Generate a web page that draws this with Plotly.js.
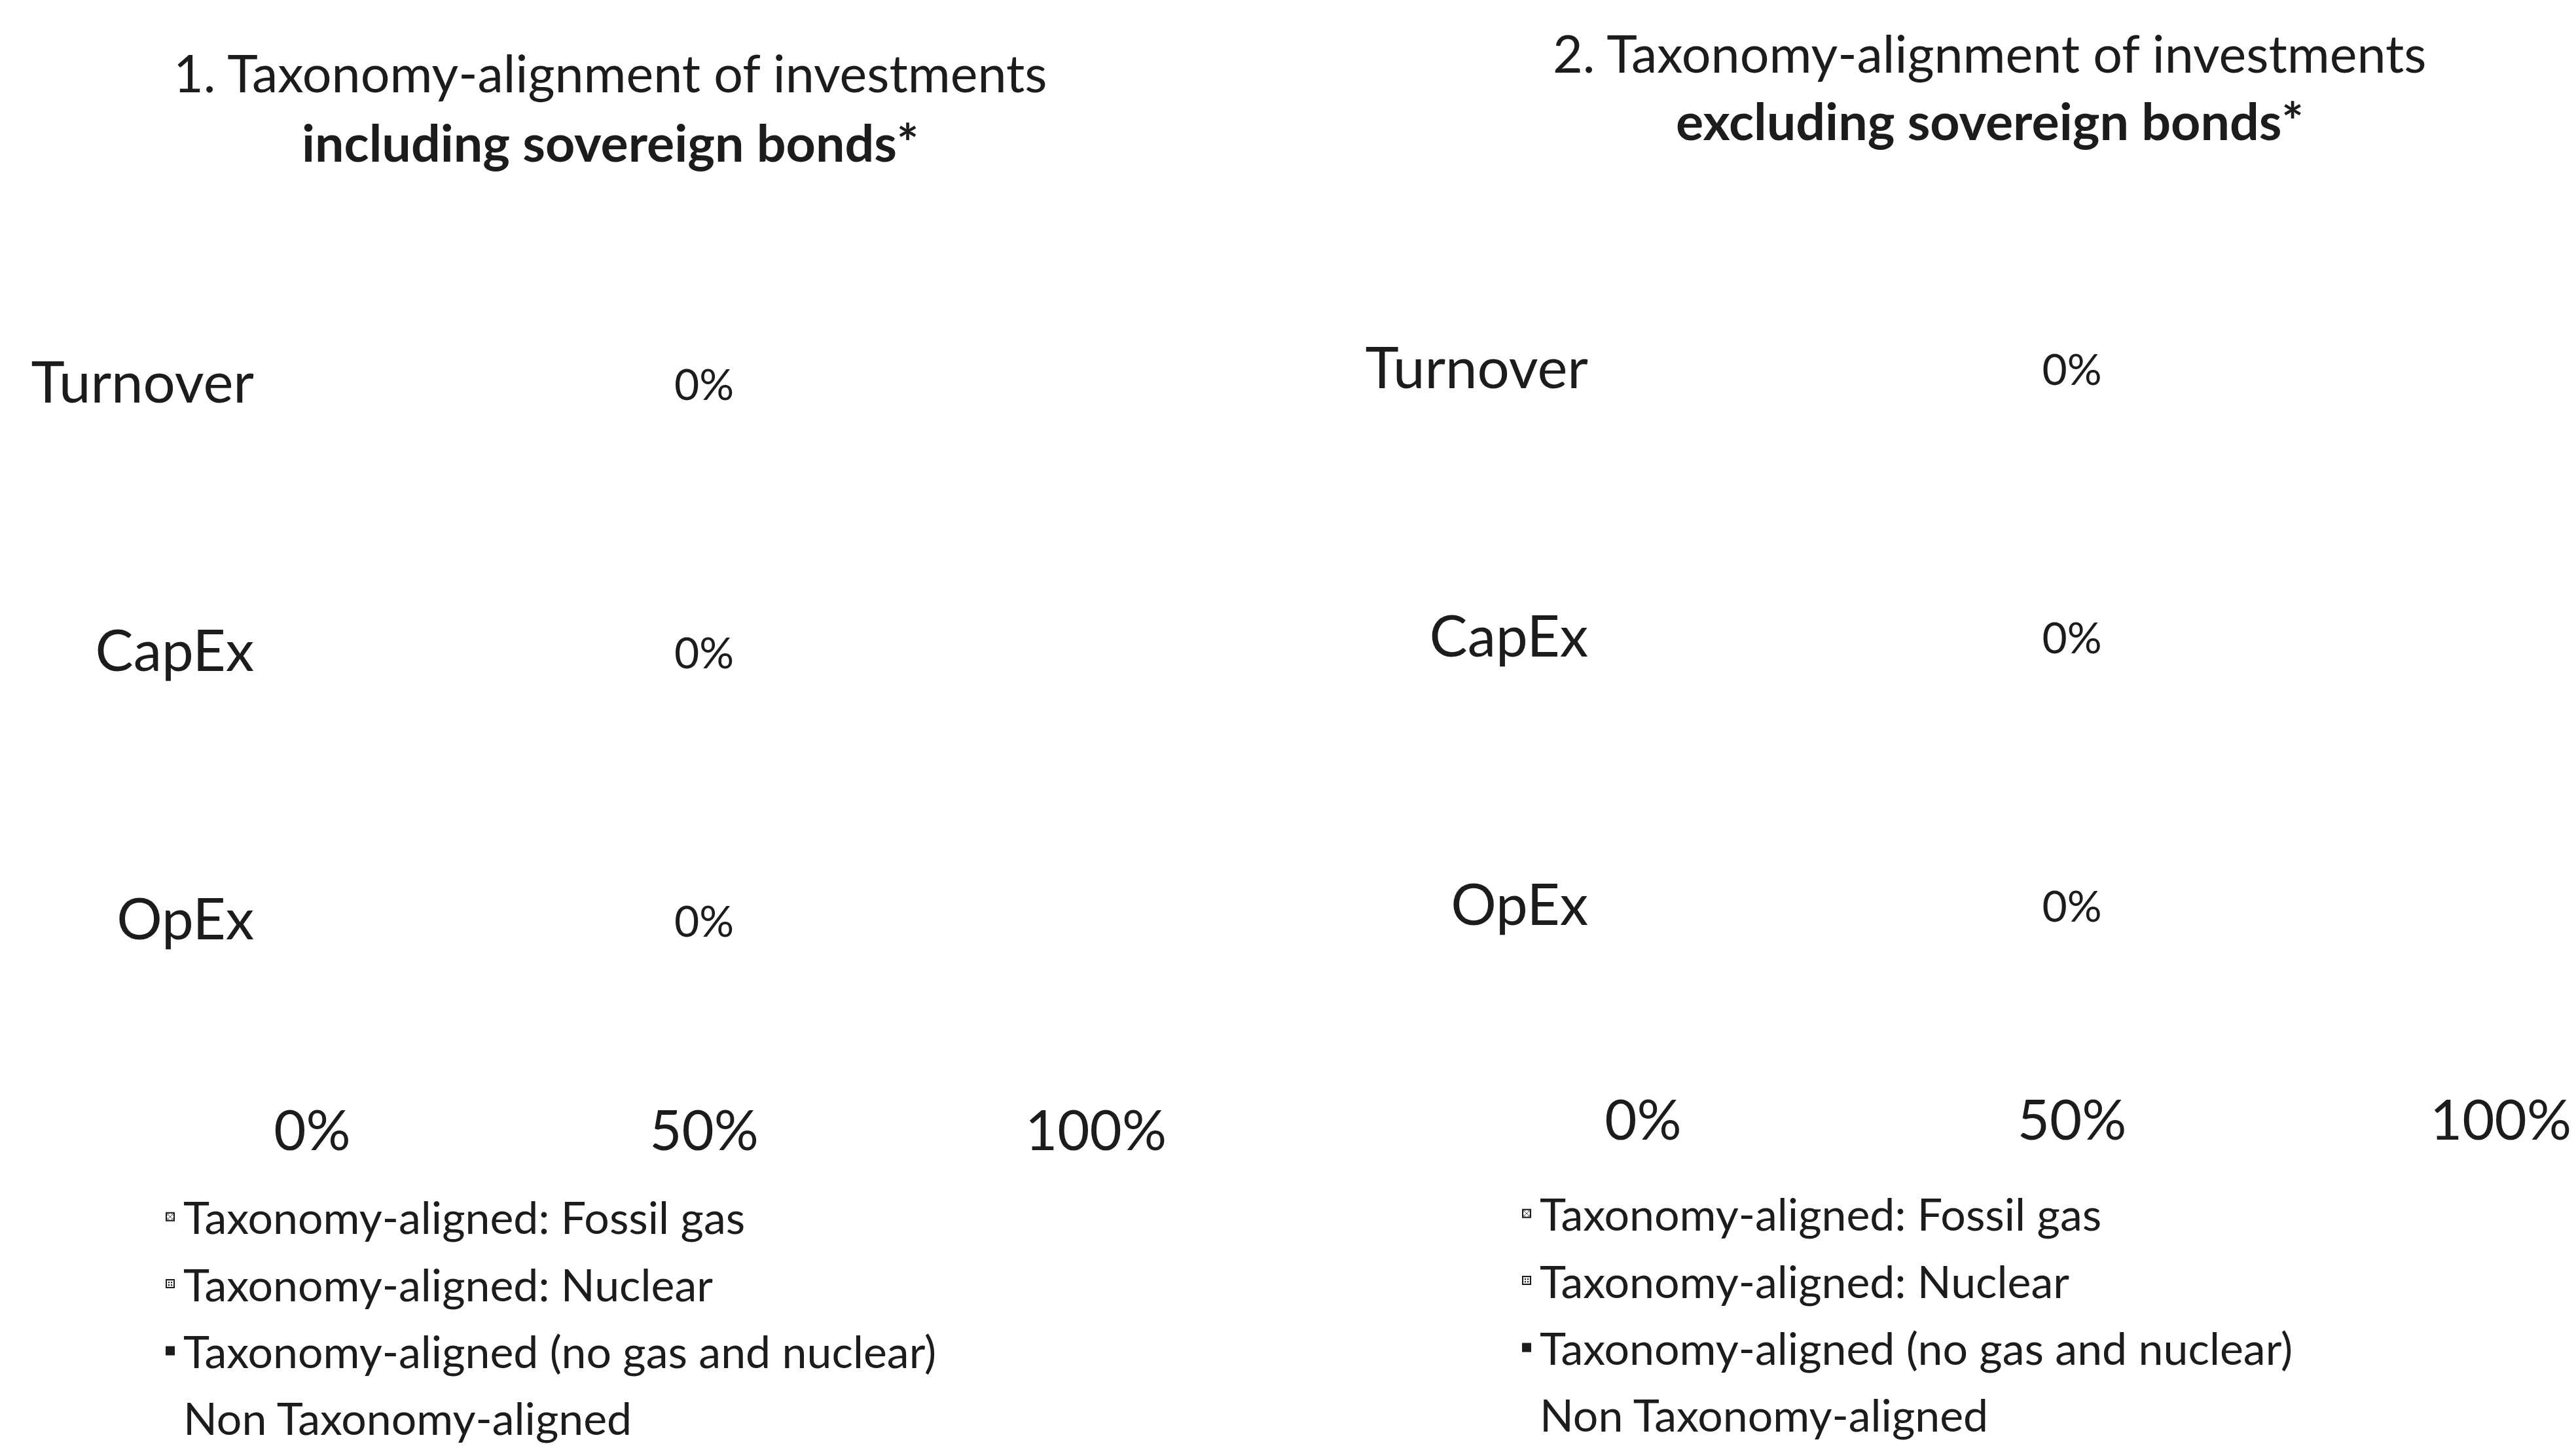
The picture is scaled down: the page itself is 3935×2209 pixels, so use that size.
<!DOCTYPE html>
<html>
<head>
<meta charset="utf-8">
<script src="https://cdn.plot.ly/plotly-3.0.1.min.js"></script>
<style>
  html, body { margin: 0; padding: 0; background: #ffffff; }
  #chart { width: 3935px; height: 2209px; }
</style>
</head>
<body>
<div id="chart"></div>
<script>
// ---------- DATA ----------
const categories = ['Turnover', 'CapEx', 'OpEx'];
const seriesNames = [
  'Taxonomy-aligned: Fossil gas',
  'Taxonomy-aligned: Nuclear',
  'Taxonomy-aligned (no gas and nuclear)',
  'Non Taxonomy-aligned'
];
// Chart 1: including sovereign bonds (%)
const incFossilGas   = [0, 0, 0];
const incNuclear     = [0, 0, 0];
const incAligned     = [0, 0, 0];
const incNonAligned  = [100, 100, 100];
// Chart 2: excluding sovereign bonds (%)
const excFossilGas   = [0, 0, 0];
const excNuclear     = [0, 0, 0];
const excAligned     = [0, 0, 0];
const excNonAligned  = [100, 100, 100];

const xTickVals = [0, 50, 100];
const xTickText = ['0%', '50%', '100%'];

const chartTitles = [
  ['1. Taxonomy-alignment of investments', 'including sovereign bonds*'],
  ['2. Taxonomy-alignment of investments', 'excluding sovereign bonds*']
];

// ---------- STYLE ----------
const FONT = 'Lato, "Open Sans", sans-serif';
const INK = '#1c1c1c';

function alignedLabels(a, b, c) {
  return a.map((v, i) => (v + b[i] + c[i]) + '%');
}

function makeTraces(fg, nu, al, non, xa, ya, leg) {
  const common = { type: 'bar', orientation: 'h', y: categories, xaxis: xa, yaxis: ya,
                   legend: leg, hoverinfo: 'skip' };
  return [
    Object.assign({}, common, { name: seriesNames[0], x: fg, legendgroup: leg + 'a',
      marker: { color: '#ffffff', line: { color: INK, width: 2 },
                pattern: { shape: 'x', fgcolor: INK, bgcolor: '#ffffff', size: 6, solidity: 0.3 } } }),
    Object.assign({}, common, { name: seriesNames[1], x: nu, legendgroup: leg + 'b',
      marker: { color: '#ffffff', line: { color: INK, width: 2 },
                pattern: { shape: '.', fgcolor: INK, bgcolor: '#ffffff', size: 5, solidity: 0.3 } } }),
    Object.assign({}, common, { name: seriesNames[2], x: al, legendgroup: leg + 'c',
      marker: { color: INK, line: { color: INK, width: 2 } } }),
    Object.assign({}, common, { name: seriesNames[3], x: non, legendgroup: leg + 'd',
      marker: { color: '#ffffff', line: { color: '#ffffff', width: 0 } },
      text: alignedLabels(fg, nu, al), textposition: 'inside', insidetextanchor: 'middle',
      textangle: 0, constraintext: 'none',
      insidetextfont: { family: FONT, size: 66, color: INK } })
  ];
}

const data = [].concat(
  makeTraces(incFossilGas, incNuclear, incAligned, incNonAligned, 'x', 'y', 'legend'),
  makeTraces(excFossilGas, excNuclear, excAligned, excNonAligned, 'x2', 'y2', 'legend2')
);

function xAxis(domain, anchor, standoff) {
  return { domain: domain, anchor: anchor, range: [0, 100], tickvals: xTickVals, ticktext: xTickText,
           showgrid: false, zeroline: false, showline: false, ticks: '', fixedrange: true,
           automargin: false, ticklabelstandoff: standoff,
           tickfont: { family: FONT, size: 85, color: INK } };
}
function yAxis(domain, anchor, standoff) {
  return { domain: domain, anchor: anchor, type: 'category', autorange: 'reversed',
           showgrid: false, zeroline: false, showline: false, ticks: '', fixedrange: true,
           automargin: false, ticklabelstandoff: standoff,
           tickfont: { family: FONT, size: 87, color: INK } };
}

const W = 3935, H = 2209;
const px = v => v / W;
const py = v => 1 - v / H;

const annotations = [];
[[932, 110, 216], [3039, 80, 183]].forEach((p, k) => {
  annotations.push({ xref: 'paper', yref: 'paper', x: px(p[0]), y: py(p[1]), xanchor: 'center', yanchor: 'middle',
    text: chartTitles[k][0], showarrow: false, font: { family: FONT, size: 79, color: INK } });
  annotations.push({ xref: 'paper', yref: 'paper', x: px(p[0]), y: py(p[2]), xanchor: 'center', yanchor: 'middle',
    text: '<b>' + chartTitles[k][1] + '</b>', showarrow: false, font: { family: FONT, size: 79, color: INK } });
});

const legendBase = { orientation: 'v', traceorder: 'grouped', tracegroupgap: 11, bgcolor: 'rgba(0,0,0,0)',
                     font: { family: FONT, size: 68, color: INK }, xanchor: 'left', yanchor: 'top', itemclick: false };

const layout = {
  width: W, height: H,
  margin: { l: 0, r: 0, t: 0, b: 0, autoexpand: false },
  paper_bgcolor: '#ffffff', plot_bgcolor: '#ffffff',
  barmode: 'stack', bargap: 0.2,
  showlegend: true,
  font: { family: FONT, color: INK },
  xaxis:  xAxis([px(477), px(1674)], 'y', 61),
  yaxis:  yAxis([py(1610), py(380)], 'x', 88),
  xaxis2: xAxis([px(2510), px(3820)], 'y2', 67),
  yaxis2: yAxis([py(1588), py(357)], 'x2', 83),
  legend:  Object.assign({}, legendBase, { x: px(240), y: py(1808) }),
  legend2: Object.assign({}, legendBase, { x: px(2312), y: py(1803) }),
  annotations: annotations
};

Plotly.newPlot('chart', data, layout, { staticPlot: true, displayModeBar: false });
</script>
</body>
</html>
